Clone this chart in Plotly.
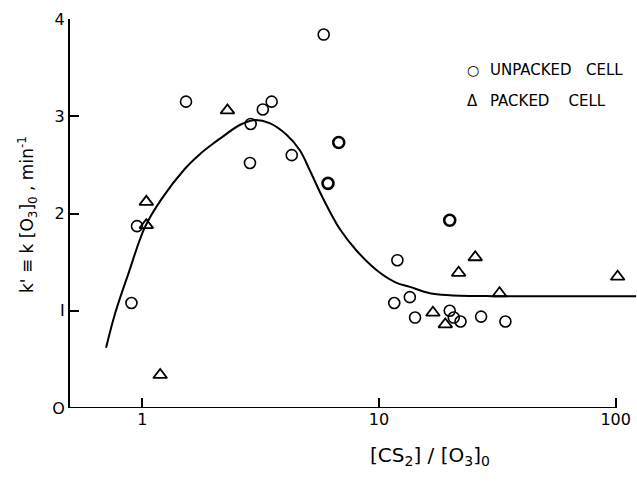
import math
import plotly.graph_objects as go

# Unpacked cell (circles)
unp_x = [0.90, 0.95, 1.53, 2.85, 2.87, 3.23, 3.52, 4.28, 5.84, 6.09, 6.76, 11.6, 11.96, 13.5, 14.2, 19.9, 19.9, 20.7, 22.1, 27.0, 34.2]
unp_y = [1.08, 1.87, 3.15, 2.52, 2.92, 3.07, 3.15, 2.60, 3.84, 2.31, 2.73, 1.08, 1.52, 1.14, 0.93, 1.93, 1.00, 0.93, 0.89, 0.94, 0.89]
unp_bold = [0, 0, 0, 0, 0, 0, 0, 0, 0, 1, 1, 0, 0, 0, 0, 1, 0, 0, 0, 0, 0]

# Packed cell (triangles)
pk_x = [1.04, 1.04, 1.19, 2.29, 16.9, 19.06, 21.7, 25.5, 32.3, 101.9]
pk_y = [2.12, 1.88, 0.34, 3.06, 0.98, 0.86, 1.39, 1.55, 1.18, 1.35]

# Fitted curve
curve_x = [0.703, 0.767, 0.873, 1.026, 1.207, 1.514, 1.75, 1.97, 2.13, 2.58, 2.94, 3.45, 4.07, 4.63, 5.10, 5.79, 6.83, 8.03, 9.75, 11.8, 13.5, 16.4, 19.9, 30.0, 60.0, 122.0]
curve_y = [0.62, 0.97, 1.38, 1.86, 2.15, 2.46, 2.61, 2.71, 2.77, 2.91, 2.96, 2.93, 2.81, 2.65, 2.445, 2.16, 1.84, 1.62, 1.42, 1.29, 1.245, 1.18, 1.16, 1.15, 1.15, 1.15]

x_ticks = [1, 10, 100]
x_ticktext = ["1", "10", "100"]
y_ticks = [0, 1, 2, 3, 4]
y_ticktext = ["O", "I", "2", "3", "4"]

FONT = "DejaVu Sans"
x_axis_start = 0.495
x_axis_end = 100
xmax_log = 2.09

fig = go.Figure()
fig.add_trace(go.Scatter(x=curve_x, y=curve_y, mode="lines",
                         line=dict(color="black", width=2, shape="spline", smoothing=1.0), hoverinfo="skip"))
fig.add_trace(go.Scatter(x=unp_x, y=unp_y, mode="markers", cliponaxis=False,
                         marker=dict(symbol="circle-open", size=11, color="black",
                                     line=dict(width=[2.6 if b else 1.6 for b in unp_bold], color="black"))))
fig.add_trace(go.Scatter(x=pk_x, y=pk_y, mode="markers", cliponaxis=False,
                         marker=dict(symbol="triangle-up-open", size=12, color="black",
                                     line=dict(width=1.8, color="black"))))

fig.update_layout(
    width=637, height=481,
    margin=dict(l=70, r=0, t=19, b=73),
    paper_bgcolor="white", plot_bgcolor="white",
    showlegend=False,
    font=dict(family=FONT, color="black"),
    xaxis=dict(type="log", range=[math.log10(x_axis_start), xmax_log], automargin=False,
               showgrid=False, zeroline=False, showline=False,
               ticks="inside", ticklen=10, tickwidth=2, tickcolor="black",
               tickvals=x_ticks, ticktext=x_ticktext, tickfont=dict(size=16, family=FONT)),
    yaxis=dict(range=[0, 4], automargin=False, showgrid=False, zeroline=False, showline=True, linecolor="black",
               linewidth=2, ticks="inside", ticklen=9, tickwidth=2, tickcolor="black",
               tickvals=y_ticks, ticktext=y_ticktext, tickfont=dict(size=16, family=FONT)),
)

# x-axis line drawn only up to the 100 tick
fig.add_shape(type="line", xref="x", yref="y", x0=x_axis_start, x1=x_axis_end, y0=0, y1=0,
              line=dict(color="black", width=2), layer="above")

W = 637 - 70
H = 408 - 19

def px(xp):
    return (xp - 70) / W

def py(yp):
    return (408 - yp) / H

fig.add_annotation(xref="paper", yref="paper", x=px(27), y=py(215), xanchor="center", yanchor="middle",
                   textangle=-90, showarrow=False,
                   text="k' \u2261 k [O<sub>3</sub>]<sub>0</sub> , min<sup>-1</sup>",
                   font=dict(size=17, family=FONT))
fig.add_annotation(xref="paper", yref="paper", x=px(430), y=py(456), xanchor="center", yanchor="middle",
                   showarrow=False,
                   text="[CS<sub>2</sub>] / [O<sub>3</sub>]<sub>0</sub>",
                   font=dict(size=20, family=FONT))
fig.add_annotation(xref="paper", yref="paper", x=px(473), y=py(70), xanchor="center", yanchor="middle",
                   showarrow=False, text="\u25cb", font=dict(size=14, family=FONT))
fig.add_annotation(xref="paper", yref="paper", x=px(488), y=py(70), xanchor="left", yanchor="middle",
                   showarrow=False, text="UNPACKED\u00a0\u00a0\u00a0CELL", font=dict(size=15, family=FONT))
fig.add_annotation(xref="paper", yref="paper", x=px(472), y=py(101), xanchor="center", yanchor="middle",
                   showarrow=False, text="\u0394", font=dict(size=15, family=FONT))
fig.add_annotation(xref="paper", yref="paper", x=px(488), y=py(101), xanchor="left", yanchor="middle",
                   showarrow=False, text="PACKED\u00a0\u00a0\u00a0\u00a0CELL", font=dict(size=15, family=FONT))

fig.write_html("out.html")
